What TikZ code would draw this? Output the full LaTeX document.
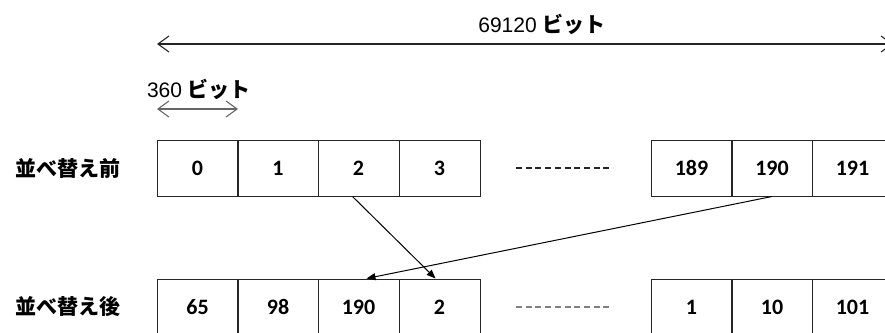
\documentclass[tikz,border=0pt]{standalone}
\usepackage{fontspec}
\setmainfont{Liberation Sans}
\newfontfamily\cjk{Noto Sans CJK JP}
\newfontfamily\cellfont{Carlito}
\usetikzlibrary{arrows.meta}

\tikzset{
  cell/.style={draw=black!85, line width=1pt, minimum width=81pt, minimum height=56pt,
    inner sep=0pt, font=\cellfont\bfseries\fontsize{22}{22}\selectfont},
  rowlabel/.style={font=\cjk\bfseries\fontsize{21}{21}\selectfont},
  dimlabel/.style={font=\fontsize{21}{21}\selectfont},
  dim/.style={line width=1.1pt, {Straight Barb[length=11pt,width=16pt]}-{Straight Barb[length=11pt,width=16pt]}},
  move/.style={line width=1pt, -{Triangle[length=9pt,width=7pt]}},
}

\begin{document}
\begin{tikzpicture}[x=1pt,y=-1pt]
  \useasboundingbox (0,0) rectangle (885,332);

  % overall width
  \coordinate (wl) at (157,44);
  \coordinate (wr) at (893,44);
  \draw[dim, black!85] (wl) -- (wr);
  \node[dimlabel] (wtext) at (542,24) {69120 {\cjk\bfseries ビット}};

  % one cell
  \coordinate (sl) at (157,109);
  \coordinate (sr) at (238,109);
  \draw[dim, black!60] (sl) -- (sr);
  \node[dimlabel] (stext) at (199,89) {360 {\cjk\bfseries ビット}};

  % before
  \node[rowlabel] (before) at (68,168) {並べ替え前};
  \node[cell] (a0) at (197.5,168) {0};
  \node[cell] (a1) at (278,168) {1};
  \node[cell] (a2) at (358.5,168) {2};
  \node[cell] (a3) at (439.5,168) {3};
  \node[cell] (a189) at (691.5,168) {189};
  \node[cell] (a190) at (772,168) {190};
  \node[cell] (a191) at (852.5,168) {191};

  % after
  \node[rowlabel] (after) at (68,307) {並べ替え後};
  \node[cell] (b0) at (197.5,307) {65};
  \node[cell] (b1) at (278,307) {98};
  \node[cell] (b2) at (358.5,307) {190};
  \node[cell] (b3) at (439.5,307) {2};
  \node[cell] (b189) at (691.5,307) {1};
  \node[cell] (b190) at (772,307) {10};
  \node[cell] (b191) at (852.5,307) {101};

  % omitted cells
  \coordinate (ga) at (516,168);
  \coordinate (gb) at (613,168);
  \coordinate (gc) at (516,307);
  \coordinate (gd) at (613,307);
  \draw[black!85, line width=1.1pt, dash pattern=on 6pt off 3.7pt] (ga) -- (gb);
  \draw[black!50, line width=1.1pt, dash pattern=on 6pt off 3.7pt] (gc) -- (gd);

  % moves
  \draw[move] ([xshift=-6pt]a2.south) -- ([xshift=-4pt]b3.north);
  \draw[move] (a190.south) -- ([xshift=8pt]b2.north);
\end{tikzpicture}
\end{document}
